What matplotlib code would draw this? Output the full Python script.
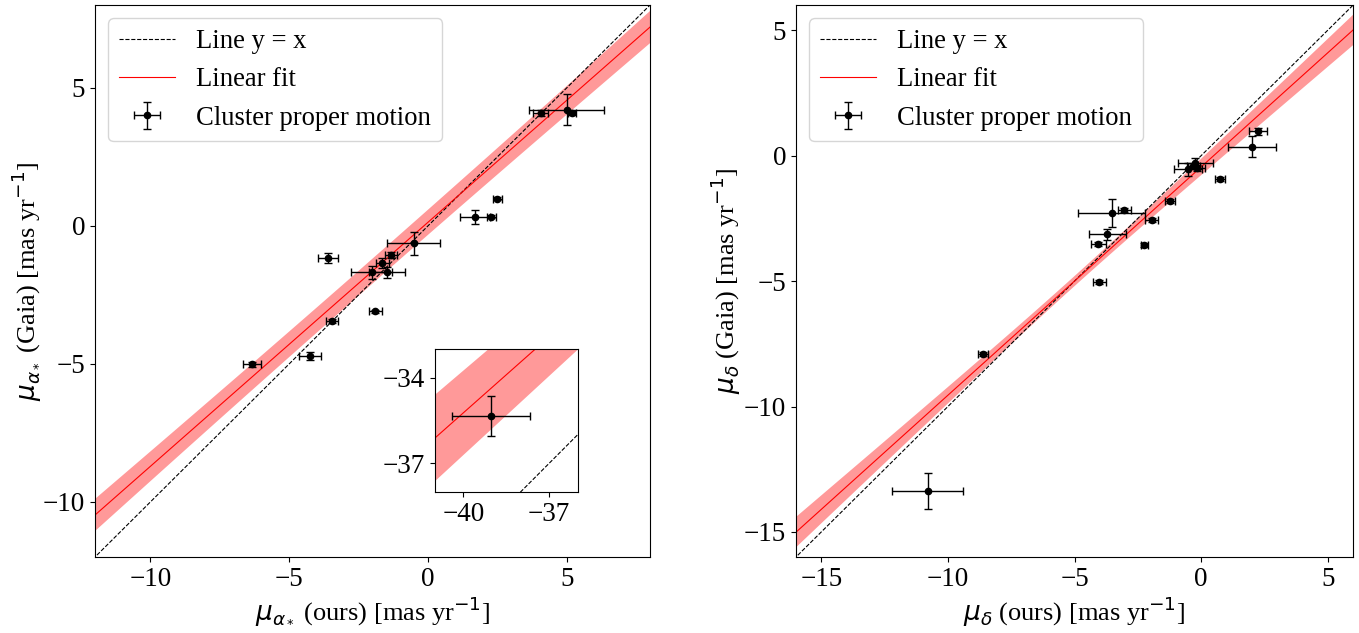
import numpy as np
import matplotlib
matplotlib.use("Agg")
import matplotlib.pyplot as plt

plt.rcParams["font.family"] = ["Liberation Serif", "DejaVu Serif"]
plt.rcParams["mathtext.fontset"] = "dejavusans"

# proper motion in RA (ours vs Gaia), mas/yr
pmra_ours = [4.07, 5.00, 5.20, 2.50, 1.70, 2.28, -0.52, -1.33, -1.65, -2.03,
             -1.48, -3.59, -1.90, -3.46, -4.25, -6.34, -39.03]
pmra_ours_err = [0.27, 1.36, 0.15, 0.16, 0.55, 0.16, 0.97, 0.23, 0.23, 0.75,
                 0.65, 0.36, 0.23, 0.23, 0.41, 0.34, 1.38]
pmra_gaia = [4.09, 4.20, 4.09, 0.99, 0.33, 0.33, -0.63, -1.06, -1.34, -1.69,
             -1.69, -1.15, -3.09, -3.44, -4.72, -5.02, -35.33]
pmra_gaia_err = [0.10, 0.56, 0.08, 0.06, 0.25, 0.06, 0.42, 0.10, 0.18, 0.24,
                 0.20, 0.18, 0.05, 0.08, 0.15, 0.08, 0.70]

# proper motion in Dec (ours vs Gaia), mas/yr
pmdec_ours = [2.24, 1.99, -0.23, -0.15, -0.51, 0.75, -1.23, -3.03, -3.53, -1.95,
              -3.70, -4.07, -2.24, -4.02, -8.62, -10.80, -0.30]
pmdec_ours_err = [0.35, 0.95, 0.68, 0.30, 0.56, 0.20, 0.20, 0.25, 1.33, 0.25,
                  0.74, 0.30, 0.15, 0.25, 0.20, 1.39, 0.25]
pmdec_gaia = [0.97, 0.35, -0.31, -0.50, -0.55, -0.93, -1.81, -2.15, -2.30, -2.57,
              -3.14, -3.51, -3.55, -5.02, -7.92, -13.36, -0.42]
pmdec_gaia_err = [0.15, 0.42, 0.20, 0.12, 0.25, 0.08, 0.08, 0.08, 0.56, 0.08,
                  0.23, 0.08, 0.08, 0.08, 0.08, 0.71, 0.10]

# linear fit: slope, intercept, slope error, error at pivot, pivot x
fit_ra = (0.884, 0.13, 0.037, 0.45, -2.0)
fit_dec = (0.91, -0.45, 0.052, 0.2, -5.0)


def draw_panel(ax, x, xerr, y, yerr, fit, lim, label=True):
    m, c, dm, dc, x0 = fit
    xs = np.linspace(lim[0] - 30, lim[1] + 30, 400)
    yfit = m * xs + c
    band = np.sqrt(dc ** 2 + (dm * (xs - x0)) ** 2)
    ax.plot(xs, xs, ls="--", color="k", lw=0.8, label="Line y = x" if label else None)
    ax.plot(xs, yfit, color="red", lw=0.8, label="Linear fit" if label else None)
    ax.fill_between(xs, yfit - band, yfit + band, color="red", alpha=0.4, lw=0)
    ax.errorbar(x, y, xerr=xerr, yerr=yerr, fmt="o", color="k", ms=4.5,
                elinewidth=1, capsize=3, label="Cluster proper motion" if label else None)


def style_main(ax, ticks, xlabel, ylabel):
    ax.set_xticks(ticks)
    ax.set_yticks(ticks)
    ax.tick_params(labelsize=19.5)
    ax.set_xlabel(xlabel, fontsize=19, labelpad=2)
    ax.set_ylabel(ylabel, fontsize=19, labelpad=1)
    ax.legend(loc="upper left", fontsize=19.2, handlelength=2.1)


fig = plt.figure(figsize=(13.59, 6.33), dpi=100)

ax1 = fig.add_axes([0.0699, 0.12, 0.4084, 0.872])
draw_panel(ax1, pmra_ours, pmra_ours_err, pmra_gaia, pmra_gaia_err, fit_ra, (-12, 8))
ax1.set_xlim(-12, 8)
ax1.set_ylim(-12, 8)
style_main(ax1, [-10, -5, 0, 5],
           r"$\mu_{\alpha_*}$ (ours) [mas yr$^{-1}$]",
           r"$\mu_{\alpha_*}$ (Gaia) [mas yr$^{-1}$]")

# zoom-in on the outlying cluster
axin = fig.add_axes([0.320, 0.2227, 0.105, 0.226])
draw_panel(axin, pmra_ours, pmra_ours_err, pmra_gaia, pmra_gaia_err, fit_ra, (-41, -36), label=False)
axin.set_xlim(-41, -36)
axin.set_ylim(-38, -33)
axin.set_xticks([-40, -37])
axin.set_yticks([-34, -37])
axin.tick_params(labelsize=19.5)

ax2 = fig.add_axes([0.5857, 0.12, 0.41, 0.872])
draw_panel(ax2, pmdec_ours, pmdec_ours_err, pmdec_gaia, pmdec_gaia_err, fit_dec, (-16, 6))
ax2.set_xlim(-16, 6)
ax2.set_ylim(-16, 6)
style_main(ax2, [-15, -10, -5, 0, 5],
           r"$\mu_{\delta}$ (ours) [mas yr$^{-1}$]",
           r"$\mu_{\delta}$ (Gaia) [mas yr$^{-1}$]")

fig.savefig("out.png", dpi=100)
